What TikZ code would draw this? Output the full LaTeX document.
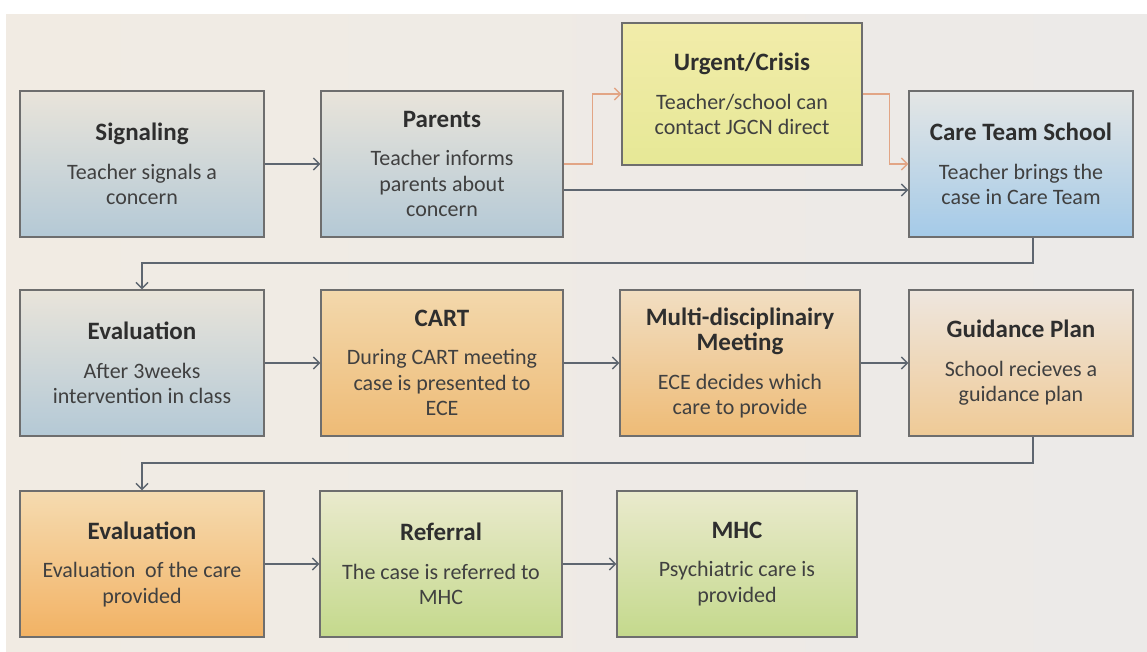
\documentclass[tikz,border=0pt]{standalone}
\usepackage{fontspec}
\setmainfont{Carlito}
\usetikzlibrary{arrows.meta}
\definecolor{bgleft}{HTML}{F1EBE3}
\definecolor{bgright}{HTML}{ECEAE8}
\definecolor{boxline}{HTML}{6E6E6E}
\definecolor{txtgrey}{HTML}{404040}
\definecolor{ttlgrey}{HTML}{2E2E2E}
\definecolor{linkgrey}{HTML}{5E6670}
\definecolor{crisisline}{HTML}{E2A585}
\newcommand\boxtitle[1]{{\fontsize{25}{29}\selectfont\bfseries\color{ttlgrey}#1}}
\tikzset{
  stage/.style={draw=boxline, line width=1.2pt, minimum width=244pt,
    minimum height=146pt, inner sep=0pt, align=center, text=txtgrey,
    font=\fontsize{22}{25.5}\selectfont},
  greystage/.style={stage, top color={rgb,255:red,233;green,228;blue,218},
    bottom color={rgb,255:red,180;green,201;blue,214}},
  bluestage/.style={stage, top color={rgb,255:red,228;green,230;blue,229},
    bottom color={rgb,255:red,164;green,202;blue,232}},
  yellowstage/.style={stage, top color={rgb,255:red,242;green,236;blue,170},
    bottom color={rgb,255:red,230;green,232;blue,150}},
  orangestage/.style={stage, top color={rgb,255:red,243;green,216;blue,172},
    bottom color={rgb,255:red,238;green,187;blue,118}},
  paleorange/.style={stage, top color={rgb,255:red,238;green,230;blue,222},
    bottom color={rgb,255:red,239;green,202;blue,150}},
  deeporange/.style={stage, top color={rgb,255:red,245;green,219;blue,176},
    bottom color={rgb,255:red,242;green,178;blue,100}},
  greenstage/.style={stage, top color={rgb,255:red,234;green,234;blue,205},
    bottom color={rgb,255:red,196;green,217;blue,140}},
  link/.style={draw=linkgrey, line width=1.5pt,
    -{Straight Barb[length=6pt,width=12pt]}},
  crisis/.style={link, draw=crisisline}
}
\begin{document}
\begin{tikzpicture}[x=1pt, y=-1pt]
\useasboundingbox (0,0) rectangle (1147,651);
\fill[white] (0,0) rectangle (1147,651);
\shade[left color=bgleft, right color=bgright] (6,14) rectangle (1147,651);

% first row
\node[greystage] (sig) at (142,164) {\boxtitle{Signaling}\\[13pt]
  Teacher signals a\\ concern};
\node[greystage, minimum width=242pt] (par) at (442,164) {\boxtitle{Parents}\\[13pt]
  Teacher informs\\ parents about\\ concern};
\node[yellowstage, minimum width=240pt, minimum height=142pt] (urg) at (742,94)
  {\boxtitle{Urgent/Crisis}\\[13pt] Teacher/school can\\ contact JGCN direct};
\node[bluestage, minimum width=224pt] (cts) at (1021,164) {\boxtitle{Care Team School}\\[13pt]
  Teacher brings the\\ case in Care Team};

% second row
\node[greystage] (ev1) at (142,363) {\boxtitle{Evaluation}\\[13pt]
  After 3weeks\\ intervention in class};
\node[orangestage, minimum width=242pt] (cart) at (442,363) {\boxtitle{CART}\\[13pt]
  During CART meeting\\ case is presented to\\ ECE};
\node[orangestage, minimum width=240pt, top color={rgb,255:red,241;green,222;blue,194}]
  (mdm) at (740,363) {\boxtitle{Multi-disciplinairy}\\ \boxtitle{Meeting}\\[13pt]
  ECE decides which\\ care to provide};
\node[paleorange, minimum width=224pt] (gp) at (1021,363) {\boxtitle{Guidance Plan}\\[13pt]
  School recieves a\\ guidance plan};

% third row
\node[deeporange] (ev2) at (142,564) {\boxtitle{Evaluation}\\[13pt]
  Evaluation~ of the care\\ provided};
\node[greenstage, minimum width=242pt] (ref) at (441,564) {\boxtitle{Referral}\\[13pt]
  The case is referred to\\ MHC};
\node[greenstage, minimum width=240pt] (mhc) at (737,564) {\boxtitle{MHC}\\[13pt]
  Psychiatric care is\\ provided};

\coordinate (turnA) at (1033,263);
\coordinate (turnB) at (1033,463);

\draw[link] (sig) -- (par);
\draw[link] ([yshift=-26pt]par.east) -- ([yshift=-26pt]cts.west);
\draw[crisis] (par.east) -- ++(29,0) |- (urg.west);
\draw[crisis] (urg.east) -- ++(27,0) |- (cts.west);
\draw[link] (cts.south -| turnA) -- (turnA) -| (ev1.north);

\draw[link] (ev1) -- (cart);
\draw[link] (cart) -- (mdm);
\draw[link] (mdm) -- (gp);
\draw[link] (gp.south -| turnB) -- (turnB) -| (ev2.north);

\draw[link] (ev2) -- (ref);
\draw[link] (ref) -- (mhc);
\end{tikzpicture}
\end{document}
